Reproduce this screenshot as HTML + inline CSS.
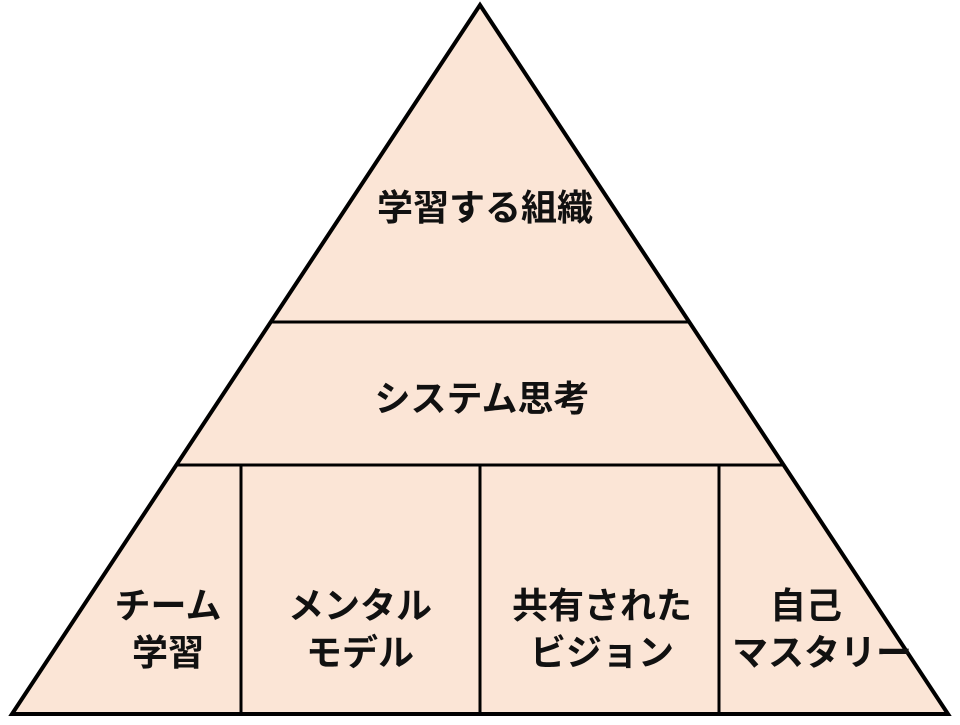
<!DOCTYPE html>
<html><head><meta charset="utf-8"><style>
html,body{margin:0;padding:0;background:#fff;}
svg text{font-family:"Liberation Sans","Noto Sans CJK JP",sans-serif;font-weight:bold;font-size:36px;fill:#111;text-anchor:middle;}
</style></head><body>
<svg width="960" height="720" viewBox="0 0 960 720" xmlns="http://www.w3.org/2000/svg">
<polygon points="480,5 948,714 12,714" fill="#fbe5d6" stroke="#000" stroke-width="4" stroke-linejoin="miter"/>
<line x1="271" y1="322" x2="689" y2="322" stroke="#000" stroke-width="3"/>
<line x1="177" y1="465" x2="783" y2="465" stroke="#000" stroke-width="3"/>
<line x1="241" y1="465" x2="241" y2="714" stroke="#000" stroke-width="3"/>
<line x1="480" y1="465" x2="480" y2="714" stroke="#000" stroke-width="3"/>
<line x1="719" y1="465" x2="719" y2="714" stroke="#000" stroke-width="3"/>
<text x="485" y="220">学習する組織</text>
<text x="482" y="411">システム思考</text>
<text x="168" y="618">チーム</text>
<text x="168" y="665">学習</text>
<text x="360" y="618">メンタル</text>
<text x="360" y="665">モデル</text>
<text x="602" y="618">共有された</text>
<text x="602" y="665">ビジョン</text>
<text x="806" y="618">自己</text>
<text x="822" y="665">マスタリー</text>
</svg>
</body></html>
